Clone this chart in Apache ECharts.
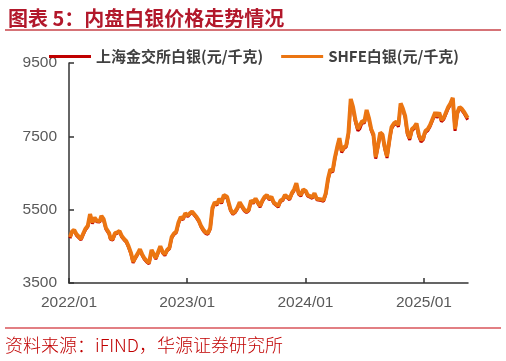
<!DOCTYPE html>
<html>
<head>
<meta charset="utf-8">
<script src="https://cdn.jsdelivr.net/npm/echarts@6/dist/echarts.min.js"></script>
<style>
html,body{margin:0;padding:0;background:#fff;}
#c{width:506px;height:361px;}
</style>
</head>
<body>
<div id="c"></div>
<script>
const titleText = '图表 5：内盘白银价格走势情况';
const sourceText = '资料来源：iFIND，华源证券研究所';
const seriesNames = ['上海金交所白银(元/千克)', 'SHFE白银(元/千克)'];
const yTicks = [3500, 5500, 7500, 9500];

const dates = [
'2022-01-04','2022-01-10','2022-01-17','2022-01-24',
'2022-02-07','2022-02-14','2022-02-21','2022-02-28',
'2022-03-07','2022-03-14','2022-03-21','2022-03-28',
'2022-04-06','2022-04-11','2022-04-18','2022-04-25',
'2022-05-05','2022-05-09','2022-05-16','2022-05-23','2022-05-30',
'2022-06-06','2022-06-13','2022-06-20','2022-06-27',
'2022-07-04','2022-07-11','2022-07-18','2022-07-25',
'2022-08-01','2022-08-08','2022-08-15','2022-08-22','2022-08-29',
'2022-09-05','2022-09-13','2022-09-19','2022-09-26',
'2022-10-10','2022-10-17','2022-10-24','2022-10-31',
'2022-11-07','2022-11-14','2022-11-21','2022-11-28',
'2022-12-05','2022-12-12','2022-12-19','2022-12-26',
'2023-01-03','2023-01-09','2023-01-16','2023-01-30',
'2023-02-06','2023-02-13','2023-02-20','2023-02-27',
'2023-03-06','2023-03-13','2023-03-20','2023-03-27',
'2023-04-03','2023-04-10','2023-04-17','2023-04-24',
'2023-05-04','2023-05-08','2023-05-15','2023-05-22','2023-05-29',
'2023-06-05','2023-06-12','2023-06-19','2023-06-26',
'2023-07-03','2023-07-10','2023-07-17','2023-07-24','2023-07-31',
'2023-08-07','2023-08-14','2023-08-21','2023-08-28',
'2023-09-04','2023-09-11','2023-09-18','2023-09-25',
'2023-10-09','2023-10-16','2023-10-23','2023-10-30',
'2023-11-06','2023-11-13','2023-11-20','2023-11-27',
'2023-12-04','2023-12-11','2023-12-18','2023-12-25',
'2024-01-02','2024-01-08','2024-01-15','2024-01-22','2024-01-29',
'2024-02-05','2024-02-19','2024-02-26',
'2024-03-04','2024-03-11','2024-03-18','2024-03-25',
'2024-04-01','2024-04-08','2024-04-15','2024-04-22','2024-04-29',
'2024-05-06','2024-05-13','2024-05-20','2024-05-27',
'2024-06-03','2024-06-11','2024-06-17','2024-06-24',
'2024-07-01','2024-07-08','2024-07-15','2024-07-22','2024-07-29',
'2024-08-05','2024-08-12','2024-08-19','2024-08-26',
'2024-09-02','2024-09-09','2024-09-18','2024-09-23','2024-09-30',
'2024-10-08','2024-10-14','2024-10-21','2024-10-28',
'2024-11-04','2024-11-11','2024-11-18','2024-11-25',
'2024-12-02','2024-12-09','2024-12-16','2024-12-23','2024-12-30',
'2025-01-02','2025-01-06','2025-01-13','2025-01-20',
'2025-02-05','2025-02-10','2025-02-17','2025-02-24',
'2025-03-03','2025-03-10','2025-03-17','2025-03-24','2025-03-31',
'2025-04-07','2025-04-14','2025-04-21','2025-04-28',
'2025-05-06','2025-05-12','2025-05-16'
];

const sgeSilver = [
4720,4875,4920,4800,
4675,4820,4950,5030,
5350,5120,5255,5170,
5160,5300,5215,4970,
4830,4690,4670,4830,4855,
4890,4750,4675,4610,
4470,4300,4050,4170,
4275,4390,4250,4140,4070,
4020,4370,4275,4150,
4470,4320,4250,4375,
4430,4720,4825,4870,
5120,5270,5225,5370,
5310,5375,5420,5270,
5170,5020,4920,4850,
4830,4970,5520,5670,
5620,5770,5670,5870,
5820,5770,5470,5370,5420,
5520,5670,5570,5470,
5420,5470,5720,5670,5770,
5670,5570,5720,5820,
5870,5770,5820,5670,
5570,5720,5750,5870,
5820,5770,5920,6020,
6190,5920,5870,6020,
5980,5870,5840,5810,5920,
5770,5750,5730,
5920,6320,6570,6520,
6890,7170,7410,7060,7170,
7210,7560,8480,8260,
7900,7650,7710,7870,
7860,8180,7960,7660,7510,
6890,7210,7560,7510,
7160,6910,7460,7710,7810,
7860,7760,8360,8210,
8010,7550,7400,7660,
7710,7810,7500,7350,7410,
7520,7610,7660,7770,
8120,8010,8110,7900,
7960,8110,8260,8360,8510,
7650,8110,8260,8210,
8110,8160,7950
];

const shfeSilver = [
4750,4900,4950,4830,
4700,4850,4980,5060,
5380,5150,5280,5200,
5190,5330,5240,5000,
4860,4720,4700,4860,4880,
4920,4780,4700,4640,
4500,4330,4080,4200,
4300,4420,4280,4170,4100,
4050,4400,4300,4180,
4500,4350,4280,4400,
4460,4750,4850,4900,
5150,5300,5250,5400,
5340,5400,5450,5300,
5200,5050,4950,4880,
4860,5000,5550,5700,
5650,5800,5700,5900,
5850,5800,5500,5400,5450,
5550,5700,5600,5500,
5450,5500,5750,5700,5800,
5700,5600,5750,5850,
5900,5800,5850,5700,
5600,5750,5780,5900,
5850,5800,5950,6050,
6220,5950,5900,6050,
6010,5900,5870,5840,5950,
5800,5780,5760,
5950,6350,6600,6550,
6920,7200,7450,7100,7200,
7250,7600,8520,8300,
7960,7700,7750,7910,
7900,8220,8000,7700,7550,
6930,7250,7600,7550,
7200,6950,7500,7750,7850,
7900,7800,8400,8250,
8050,7600,7450,7700,
7750,7850,7550,7400,7450,
7560,7650,7700,7810,
8160,8050,8150,7950,
8000,8150,8300,8400,8550,
7700,8150,8300,8250,
8150,8200,8000
];

const red = '#C00000';
const orange = '#EB7512';
const gray = '#595959';
const fontFam = '"Liberation Sans", Arial, "Noto Sans CJK SC", sans-serif';
const cjkFam = '"Noto Sans CJK SC", sans-serif';

const chart = echarts.init(document.getElementById('c'), null, {renderer: 'canvas'});
const YEAR = 365 * 24 * 3600 * 1000;

chart.setOption({
  animation: false,
  backgroundColor: '#fff',
  title: {
    text: titleText,
    left: 3, top: 3,
    textStyle: {color: '#B2182B', fontSize: 20, fontWeight: 'bold', fontFamily: cjkFam}
  },
  graphic: [
    {type: 'line', shape: {x1: 5, y1: 30, x2: 501, y2: 30}, style: {stroke: '#C8454A', lineWidth: 1.5}},
    {type: 'line', shape: {x1: 5, y1: 328, x2: 501, y2: 328}, style: {stroke: '#D9545A', lineWidth: 1.5}},
    {type: 'text', left: 5, top: 336, style: {text: sourceText, fill: '#C00000', font: '300 18px "Noto Sans CJK SC", sans-serif'}}
  ],
  legend: {
    left: 44, top: 44,
    icon: 'rect',
    itemWidth: 42, itemHeight: 3, itemGap: 18,
    itemStyle: {borderWidth: 0},
    lineStyle: {width: 0},
    textStyle: {color: '#404040', fontSize: 15, fontWeight: 'bold', fontFamily: cjkFam},
    data: seriesNames
  },
  grid: {left: 69, right: 38, top: 63, bottom: 78, containLabel: false},
  xAxis: {
    type: 'time',
    min: '2022-01-01', max: '2025-05-17',
    minInterval: YEAR, maxInterval: YEAR + 24 * 3600 * 1000,
    axisLine: {show: true, lineStyle: {color: '#333', width: 1.5}},
    axisTick: {show: true, inside: true, length: 5, lineStyle: {color: '#333', width: 1.5}},
    axisLabel: {
      color: gray, fontSize: 15.5, fontFamily: fontFam, margin: 12, showMinLabel: true,
      formatter: function (v) { return new Date(v).getFullYear() + '/01'; }
    },
    splitLine: {show: false}
  },
  yAxis: {
    type: 'value',
    min: yTicks[0], max: yTicks[yTicks.length - 1], interval: 2000,
    axisLine: {show: true, lineStyle: {color: '#333', width: 1.5}},
    axisTick: {show: true, inside: true, length: 5, lineStyle: {color: '#333', width: 1.5}},
    axisLabel: {color: gray, fontSize: 15.5, fontFamily: fontFam, margin: 12,
      formatter: function (v) { return String(v); }},
    splitLine: {show: false}
  },
  series: [
    {
      name: seriesNames[0], type: 'line', showSymbol: false, symbol: 'none',
      itemStyle: {color: red}, lineStyle: {color: red, width: 3},
      data: dates.map((d, i) => [d, sgeSilver[i]])
    },
    {
      name: seriesNames[1], type: 'line', showSymbol: false, symbol: 'none',
      itemStyle: {color: orange}, lineStyle: {color: orange, width: 4},
      data: dates.map((d, i) => [d, shfeSilver[i]])
    }
  ]
});
</script>
</body>
</html>
